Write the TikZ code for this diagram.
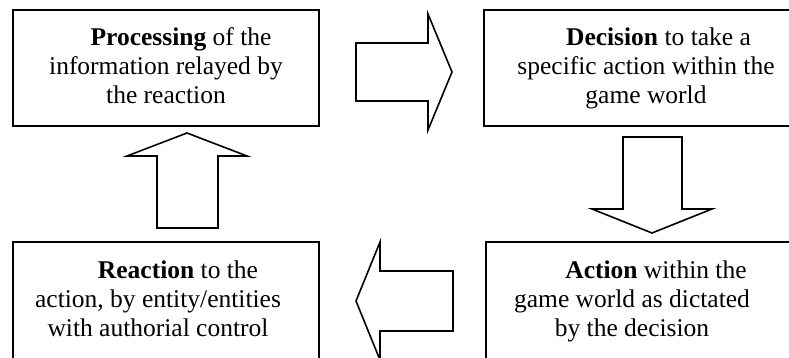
\documentclass[tikz,border=0pt]{standalone}
\usepackage{fontspec}
\setmainfont{Liberation Serif}
\begin{document}
\begin{tikzpicture}[x=1pt,y=-1pt,
  boxstyle/.style={draw=black,line width=1.8pt},
  arrowshape/.style={draw=black,line width=1.6pt,line join=miter,fill=white},
  txt/.style={align=center,inner sep=0pt,anchor=base,font=\fontsize{25.5}{29}\selectfont}]
\useasboundingbox (0,0) rectangle (789,358);
\clip (0,0) rectangle (789,358);
% boxes
\draw[boxstyle] (13,10) rectangle (319,126);
\draw[boxstyle] (484,10) rectangle (810,126);
\draw[boxstyle] (13,242) rectangle (319,380);
\draw[boxstyle] (486,242) rectangle (810,380);
% texts (base anchor = baseline of last line)
\node[txt] (proc) at (166,104) {\hspace*{30pt}\textbf{Processing} of the\\information relayed by\\the reaction};
\node[txt] (deci) at (646,104) {\hspace*{25pt}\textbf{Decision} to take a\\specific action within the\\game world};
\node[txt] (reac) at (158,336) {\hspace*{40pt}\textbf{Reaction} to the\\action, by entity/entities\\with authorial control};
\node[txt] (acti) at (632,336) {\hspace*{48pt}\textbf{Action} within the\\game world as dictated\\by the decision};
% block arrows
\draw[arrowshape] (356,43) -- (428,43) -- (428,14) -- (452,72) -- (428,130) -- (428,101) -- (356,101) -- cycle;
\draw[arrowshape] (623,137) -- (682,137) -- (682,209) -- (712,209) -- (652,233) -- (592,209) -- (623,209) -- cycle;
\draw[arrowshape] (453,271) -- (380,271) -- (380,242) -- (356,301) -- (380,360) -- (380,331) -- (453,331) -- cycle;
\draw[arrowshape] (157,228) -- (157,156) -- (127,156) -- (187,133) -- (247,156) -- (218,156) -- (218,228) -- cycle;
\end{tikzpicture}
\end{document}
